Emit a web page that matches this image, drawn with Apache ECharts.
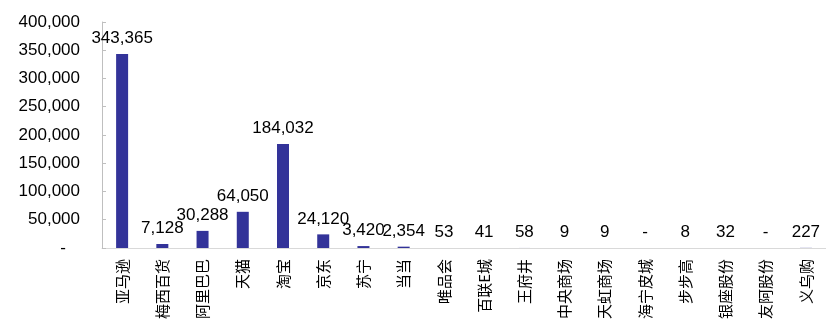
<!DOCTYPE html>
<html><head><meta charset="utf-8">
<script src="https://cdn.jsdelivr.net/npm/echarts@6/dist/echarts.min.js"></script>
<style>html,body{margin:0;padding:0;background:#fff}#c{width:826px;height:322px}</style>
</head><body><div id="c"></div>
<script>
const categories = ['亚马逊','梅西百货','阿里巴巴','天猫','淘宝','京东','苏宁','当当','唯品会','百联E城','王府井','中央商场','天虹商场','海宁皮城','步步高','银座股份','友阿股份','义乌购'];
const values = [343365, 7128, 30288, 64050, 184032, 24120, 3420, 2354, 53, 41, 58, 9, 9, 0, 8, 32, 0, 227];
const yTicks = [0, 50000, 100000, 150000, 200000, 250000, 300000, 350000, 400000];

function fmt(v){ return v === 0 ? '-' : v.toLocaleString('en-US'); }
const chart = echarts.init(document.getElementById('c'), null, {renderer:'canvas'});
chart.setOption({
  animation:false,
  grid:{left:102, top:22, width:727, bottom:71},
  xAxis:{type:'category', data:categories,
    axisLine:{lineStyle:{color:'#d9d9d9', width:1}},
    axisTick:{show:false},
    axisLabel:{rotate:90, interval:0, margin:11, color:'#000', fontSize:15, fontFamily:'Noto Sans CJK SC'}},
  yAxis:{type:'value', min:yTicks[0], max:yTicks[yTicks.length-1], interval:50000,
    splitLine:{show:false},
    axisLine:{show:true, lineStyle:{color:'#bfbfbf'}},
    axisTick:{show:true, inside:true, length:4, lineStyle:{color:'#bfbfbf'}},
    axisLabel:{margin:22, color:'#000', fontSize:17, fontFamily:'Liberation Sans',
      formatter:v => v === 0 ? '-   ' : v.toLocaleString('en-US')}},
  series:[{type:'bar', data:values, barWidth:12,
    itemStyle:{color:'#333399'},
    label:{show:true, position:'top', distance:7, color:'#000', fontSize:17, fontFamily:'Liberation Sans',
      formatter:p => fmt(p.value)}}]
});
</script></body></html>
